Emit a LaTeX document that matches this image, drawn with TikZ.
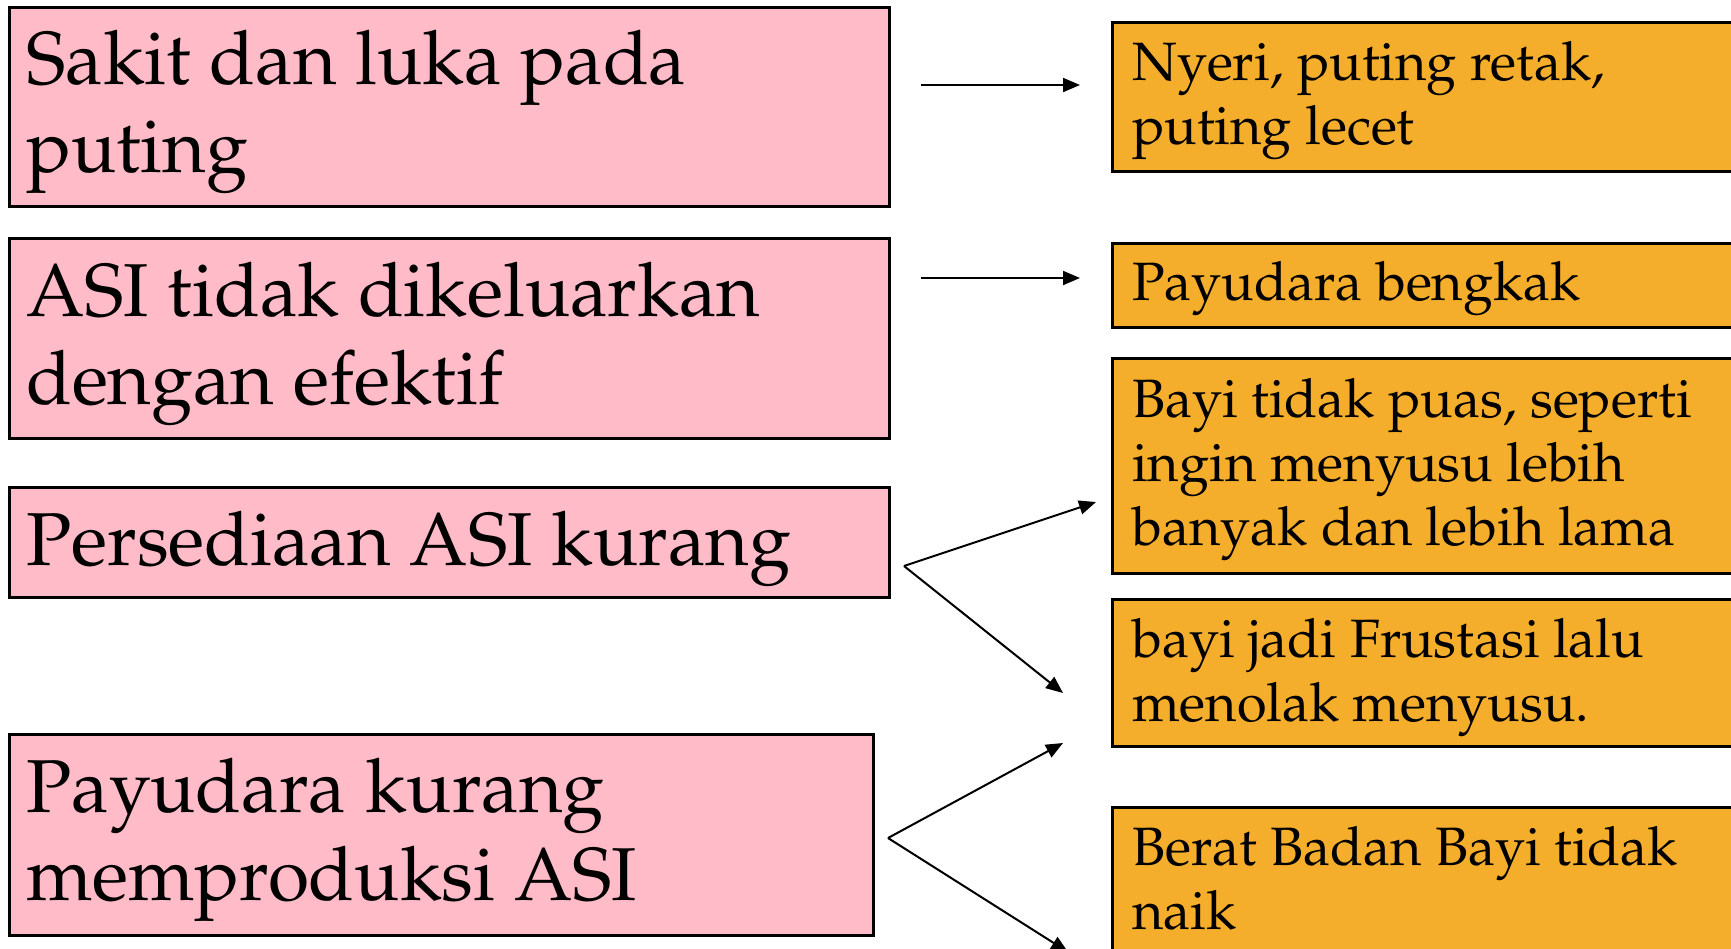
\documentclass[tikz,border=0pt]{standalone}
\usepackage[T1]{fontenc}
\renewcommand\rmdefault{ppl}
\usetikzlibrary{arrows.meta,calc}
\definecolor{pinkfill}{RGB}{255,188,200}
\definecolor{orangefill}{RGB}{245,174,43}
\tikzset{
  box/.style={draw=black, line width=2.5pt, rectangle, inner sep=0pt, anchor=north west},
  pinkbox/.style={box, fill=pinkfill},
  orangebox/.style={box, fill=orangefill},
  bigtxt/.style={anchor=base west, inner sep=0pt, align=left, font=\fontsize{75}{88}\selectfont},
  smalltxt/.style={anchor=base west, inner sep=0pt, align=left, font=\fontsize{54}{64}\selectfont},
  arr/.style={line width=2pt, -{Triangle[length=17pt,width=14pt]}}
}
\begin{document}
\begin{tikzpicture}[x=1pt,y=-1pt]
\useasboundingbox (0,0) rectangle (1731,948);
\clip (0,0) rectangle (1731,948);
% left (pink) boxes
\node[pinkbox, minimum width=880pt, minimum height=199pt] (p1) at (8,6) {};
\node[pinkbox, minimum width=880pt, minimum height=200pt] (p2) at (8,237) {};
\node[pinkbox, minimum width=880pt, minimum height=110pt] (p3) at (8,486) {};
\node[pinkbox, minimum width=864pt, minimum height=201pt] (p4) at (8,733) {};
% text nodes: base anchor = baseline of the last line
\node[bigtxt] (p1t) at (26,172) {Sakit dan luka pada\\puting};
\node[bigtxt] (p2t) at (26,404) {ASI tidak dikeluarkan\\dengan efektif};
\node[bigtxt] (p3t) at (26,565) {Persediaan ASI kurang};
\node[bigtxt] (p4t) at (26,900) {Payudara kurang\\memproduksi ASI};
% right (orange) boxes
\node[orangebox, minimum width=640pt, minimum height=149pt] (oA) at (1111,21) {};
\node[orangebox, minimum width=640pt, minimum height=84pt] (oB) at (1111,242) {};
\node[orangebox, minimum width=640pt, minimum height=215pt] (oC) at (1111,357) {};
\node[orangebox, minimum width=640pt, minimum height=147pt] (oD) at (1111,598) {};
\node[orangebox, minimum width=640pt, minimum height=200pt] (oE) at (1111,806) {};
\node[smalltxt] (oAt) at (1132,144) {Nyeri, puting retak,\\puting lecet};
\node[smalltxt] (oBt) at (1132,300) {Payudara bengkak};
\node[smalltxt] (oCt) at (1132,545) {Bayi tidak puas, seperti\\ingin menyusu lebih\\banyak dan lebih lama};
\node[smalltxt] (oDt) at (1132,721) {bayi jadi Frustasi lalu\\menolak menyusu.};
\node[smalltxt] (oEt) at (1132,929) {Berat Badan Bayi tidak\\naik};
% arrow end points
\coordinate (s1) at (921,85);  \coordinate (e1) at (1080,85);
\coordinate (s2) at (921,278); \coordinate (e2) at (1080,278);
\coordinate (s3) at (904,566); \coordinate (e3a) at (1096,502); \coordinate (e3b) at (1063,693);
\coordinate (s4) at (888,838); \coordinate (e4a) at (1063,743); \coordinate (e4b) at (1068,952);
\draw[arr] (s1) -- (e1);
\draw[arr] (s2) -- (e2);
\draw[arr] (s3) -- (e3a);
\draw[arr] (s3) -- (e3b);
\draw[arr] (s4) -- (e4a);
\draw[arr] (s4) -- (e4b);
\end{tikzpicture}
\end{document}
